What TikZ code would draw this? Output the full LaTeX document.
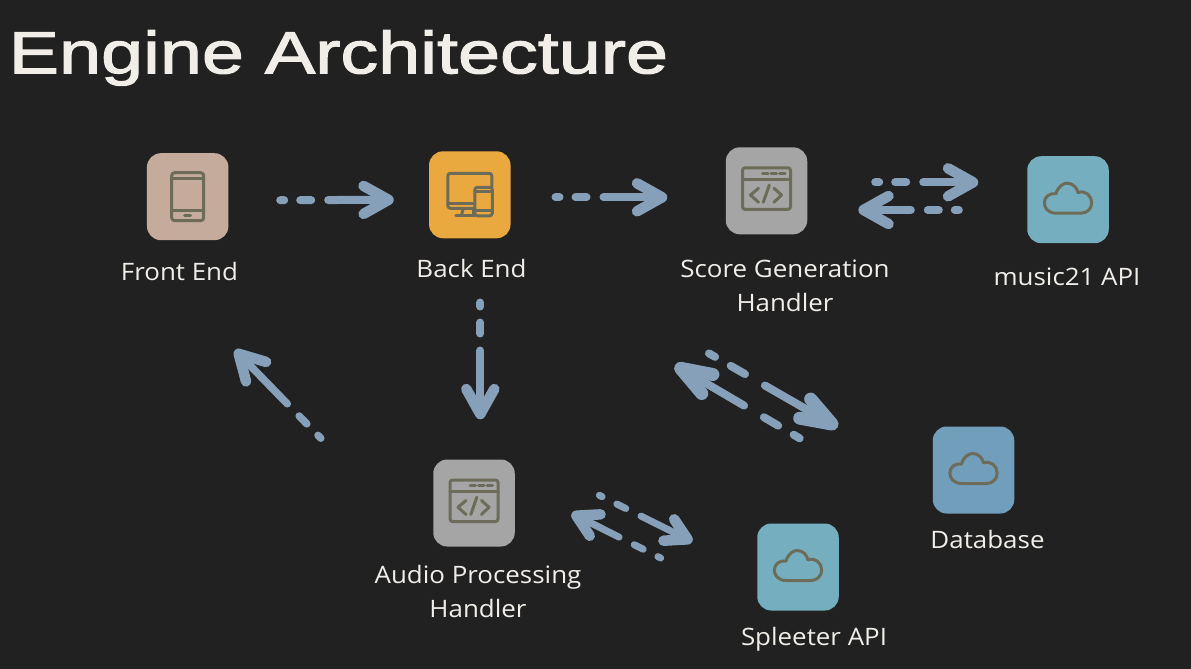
\documentclass[tikz,border=0pt]{standalone}
\usepackage{fontspec}
\setmainfont[FakeStretch=1.08]{Open Sans}
\newfontfamily\titlefont[FakeStretch=1.27,FakeBold=2]{Liberation Sans}
\usetikzlibrary{arrows.meta}
\definecolor{pagegrey}{HTML}{212121}
\definecolor{flowblue}{HTML}{85A0B8}
\definecolor{paper}{HTML}{F1EEE9}
\definecolor{iconline}{HTML}{6C6C58}
\definecolor{tilefront}{HTML}{C4AB9B}
\definecolor{tileback}{HTML}{E9A93F}
\definecolor{tilegrey}{HTML}{A5A5A5}
\definecolor{tileteal}{HTML}{75AFBF}
\definecolor{tilesteel}{HTML}{719EBB}
\tikzset{
	tile/.style={rounded corners=14pt, minimum width=81.5pt, minimum height=87pt, inner sep=0pt, fill=#1},
	tilename/.style={text=paper, font=\fontsize{24}{33.5}\selectfont, align=center, anchor=base},
	flowbase/.style={draw=flowblue, line cap=round},
	flow/.style={flowbase, line width=8pt, dash pattern=on 4pt off 16pt on 11pt off 17pt on 300pt,
		-{Straight Barb[round, length=25pt, width=28pt, line width=10.5pt]}},
	flowlong/.style={flowbase, line width=8pt, dash pattern=on 7pt off 18pt on 16.5pt off 23pt on 300pt,
		-{Straight Barb[round, length=31pt, width=22pt, line width=13pt]}},
	flowshort/.style={flowbase, line width=7pt, dash pattern=on 3pt off 16.5pt on 10pt off 17pt on 300pt,
		-{Straight Barb[round, length=21pt, width=24pt, line width=10.5pt]}},
	iconstroke/.style={draw=iconline, line width=3pt, line cap=round, line join=round},
	phoneicon/.pic={
		\draw[iconstroke, rounded corners=3pt] (-16,-24) rectangle (16,24);
		\draw[iconstroke] (-16,-18) -- (16,-18);
		\draw[iconstroke] (-16,13.5) -- (16,13.5);
		\draw[iconstroke] (-3,19) -- (3,19);
	},
	screenicon/.pic={
		\draw[iconstroke, rounded corners=2.5pt] (5,13.5) -- (-22,13.5) -- (-22,-21.5) -- (22,-21.5) -- (22,-7.5);
		\draw[iconstroke] (-22,8.5) -- (5,8.5);
		\draw[iconstroke, rounded corners=2.5pt] (5,-7.5) rectangle (22.5,21);
		\draw[iconstroke] (5,-3) -- (22.5,-3);
		\draw[iconstroke] (5,16) -- (22.5,16);
		\draw[iconstroke] (-6.5,13.5) -- (-8.5,21);
		\draw[iconstroke] (4,13.5) -- (4,21);
		\draw[iconstroke] (-14,21) -- (5,21);
	},
	codeicon/.pic={
		\draw[iconstroke, rounded corners=2.5pt] (-24,-23) rectangle (24,18.5);
		\draw[iconstroke] (-24,-11.5) -- (24,-11.5);
		\foreach \dashx in {-4,4.5,13}
			\draw[iconstroke] (\dashx,-17.5) -- ++(5.5,0);
		\draw[iconstroke] (-8,-2.5) -- (-16,4.2) -- (-8,11.5);
		\draw[iconstroke] (7.5,-2.5) -- (15,4.2) -- (7.5,11.5);
		\draw[iconstroke] (2.8,-5.8) -- (-3.2,11.5);
	},
	cloudicon/.pic={
		\draw[iconstroke] (-12,13.5) .. controls (-20,13.5) and (-23.7,8) .. (-23.7,3)
			.. controls (-23.7,-3) and (-18,-7) .. (-12,-6)
			.. controls (-10,-13) and (-5,-16.5) .. (-1,-16.5)
			.. controls (5,-16.5) and (9,-12) .. (10,-7)
			.. controls (17,-10) and (23.7,-4) .. (23.7,3)
			.. controls (23.7,9) and (19,13.5) .. (13,13.5) -- cycle;
	}
}
\begin{document}
\begin{tikzpicture}[x=1pt, y=-1pt]
	\fill[pagegrey] (0,0) rectangle (1191,669);
	\useasboundingbox (0,0) rectangle (1191,669);

	\node[text=paper, anchor=base west, inner sep=0pt, font=\titlefont\fontsize{59.5}{60}\selectfont] (heading) at (8.5,73.3) {Engine Architecture};

	\node[tile=tilefront] (front) at (187.7,196.7) {};
	\node[tile=tileback] (back) at (469.8,194.8) {};
	\node[tile=tilegrey] (score) at (766.5,190.8) {};
	\node[tile=tileteal] (music) at (1068,199.7) {};
	\node[tile=tilesteel] (database) at (973.5,470) {};
	\node[tile=tileteal] (spleeter) at (798,567) {};
	\node[tile=tilegrey] (audio) at (474,503) {};

	\pic at (front) {phoneicon};
	\pic at (back) {screenicon};
	\pic at (score) {codeicon};
	\pic at (music) {cloudicon};
	\pic at (database) {cloudicon};
	\pic at (spleeter) {cloudicon};
	\pic at (audio) {codeicon};

	\node[tilename] (frontname) at (179.5,280.7) {Front End};
	\node[tilename] (backname) at (471.5,277) {Back End};
	\node[tilename] (scorename) at (785,311) {Score Generation\\Handler};
	\node[tilename] (musicname) at (1067,285) {music21 API};
	\node[tilename] (audioname) at (478,617) {Audio Processing\\Handler};
	\node[tilename] (databasename) at (987.5,548) {Database};
	\node[tilename] (spleetername) at (814,645) {Spleeter API};

	\draw[flow] ([shift={(92.5,3.5)}]front.center) -- ([shift={(-76,5)}]back.center);
	\draw[flow] ([shift={(85.7,2.5)}]back.center) -- ([shift={(-99.2,6.5)}]score.center);
	\draw[flow] ([shift={(10.5,107.7)}]back.center) -- ([shift={(6.3,-83.7)}]audio.center);
	\draw[flow, line width=7.5pt] ([shift={(-153.2,-64.8)}]audio.center) -- ([shift={(47.3,153.3)}]front.center);
	\draw[flow] ([shift={(108.7,-8.5)}]score.center) -- ([shift={(-89.7,-17.4)}]music.center);
	\draw[flow] ([shift={(-109.2,10.3)}]music.center) -- ([shift={(91.8,19.2)}]score.center);
	\draw[flowlong] ([shift={(-57.5,162.6)}]score.center) -- ([shift={(-135.8,-42.7)}]database.center);
	\draw[flowlong] ([shift={(-173.8,-31.7)}]database.center) -- ([shift={(-91.5,174.2)}]score.center);
	\draw[flowshort] ([shift={(125.4,-7.7)}]audio.center) -- ([shift={(-105.7,-25.3)}]spleeter.center);
	\draw[flowshort] ([shift={(-137.4,-9)}]spleeter.center) -- ([shift={(97.7,10.3)}]audio.center);
\end{tikzpicture}
\end{document}
